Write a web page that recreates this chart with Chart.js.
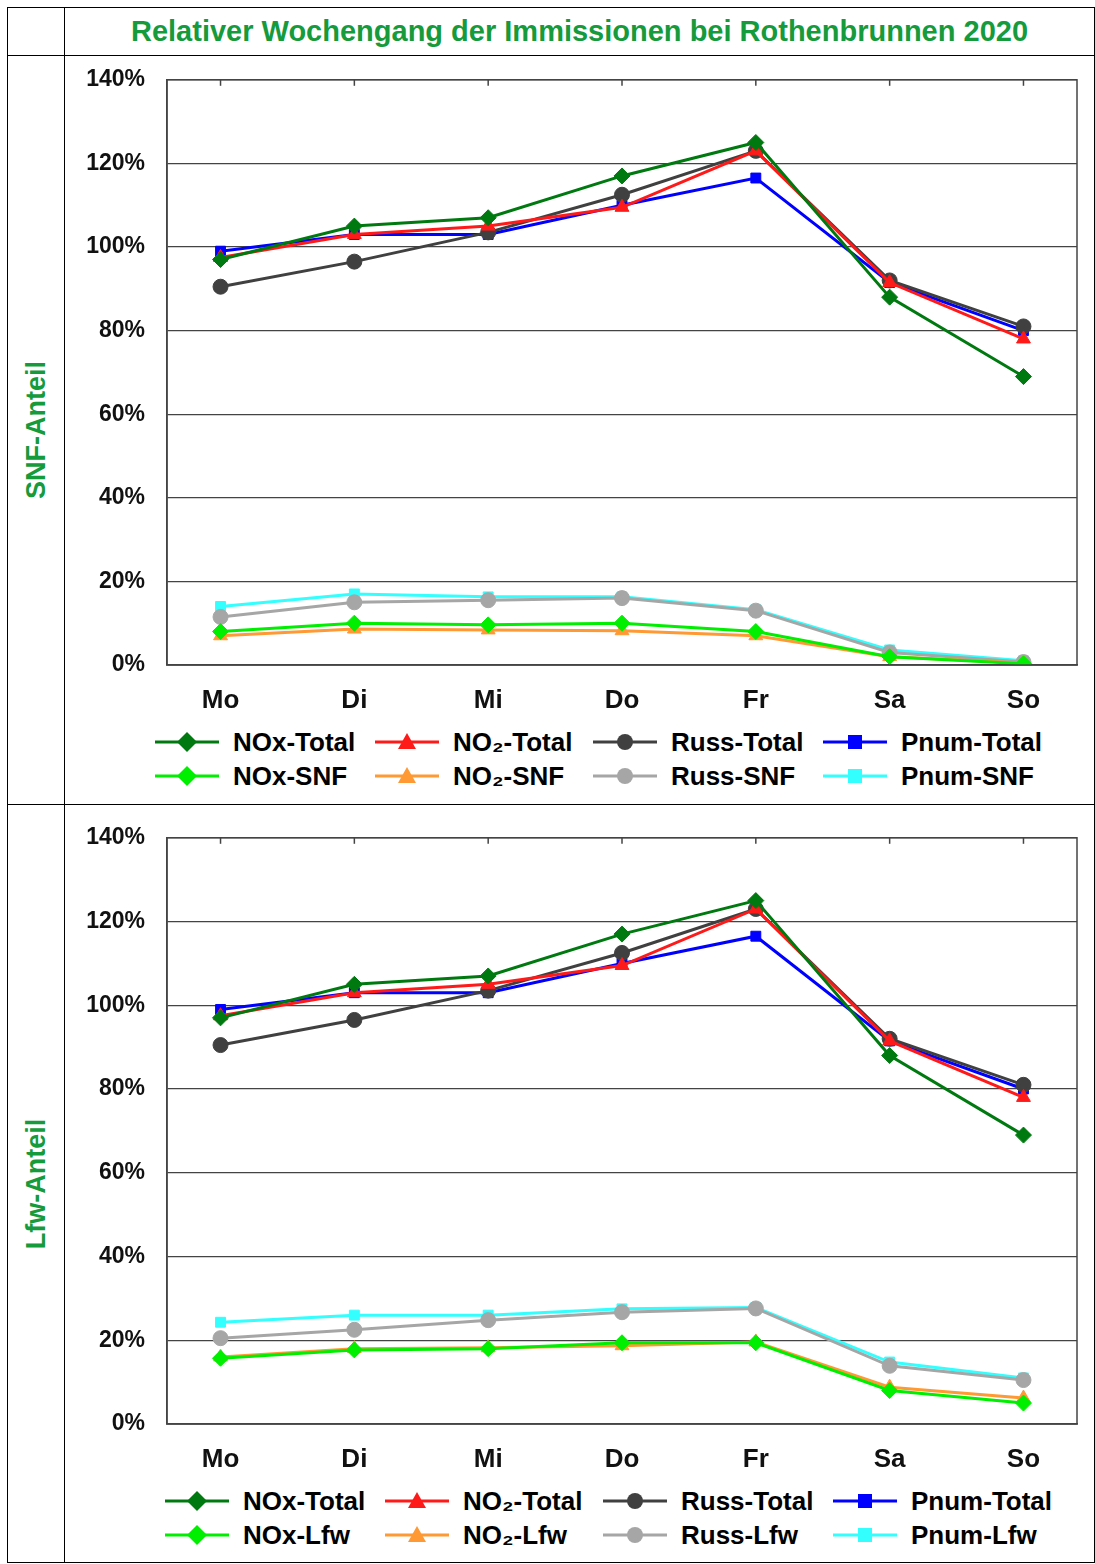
<!DOCTYPE html>
<html><head><meta charset="utf-8">
<script src="https://cdn.jsdelivr.net/npm/chart.js@4/dist/chart.umd.min.js"></script>
<style>
body{margin:0;background:#fff;font-family:"Liberation Sans",Arial,sans-serif}
table{position:absolute;left:7px;top:7px;border-collapse:collapse;width:1088px}
td{border:1.5px solid #000;padding:0;vertical-align:top}
.title{height:47px;text-align:center;color:#159a3c;font-weight:bold;font-size:29px;line-height:47px}
.side{width:56px;position:relative}
.side span{position:absolute;left:50%;top:50%;transform:translate(-50%,-50%) rotate(-90deg);color:#159a3c;font-weight:bold;font-size:27px;white-space:nowrap}
.legend{display:grid;grid-template-columns:220px 218px 230px 240px;margin-left:90px;font-weight:bold;font-size:26px;row-gap:2px;white-space:nowrap}
.legend div{display:flex;align-items:center;height:32px}
.legend svg{margin-right:14px;flex:none}
</style></head><body>
<table>
<tr><td></td><td class="title">Relativer Wochengang der Immissionen bei Rothenbrunnen 2020</td></tr>
<tr><td class="side" style="height:748px"><span>SNF-Anteil</span></td>
<td><div style="height:682px;margin-top:-12px"><canvas id="c1"></canvas></div><div class="legend" id="l1"></div></td></tr>
<tr><td class="side" style="height:757px"><span>Lfw-Anteil</span></td>
<td><div style="height:683px;margin-top:-3px"><canvas id="c2"></canvas></div><div class="legend" id="l2" style="margin-left:100px"></div></td></tr>
</table>
<script>
const days = ["Mo","Di","Mi","Do","Fr","Sa","So"];
const yTicks = [0,20,40,60,80,100,120,140];
const noxTotal = [97,105,107,117,125,88,69];
const no2Total = [97.5,103,105,109.5,123,91.5,78];
const russTotal = [90.5,96.5,103.5,112.5,123,92,81];
const pnumTotal = [99,103,103,110,116.5,91.5,80];
const noxSNF = [8,10,9.6,10,8,2,0.3];
const no2SNF = [7,8.6,8.4,8.2,7,2,0.5];
const russSNF = [11.5,15,15.5,16,13,3,0.7];
const pnumSNF = [14,17,16.3,16.3,13.2,3.6,1];
const noxLfw = [15.7,17.7,18,19.4,19.4,8,5];
const no2Lfw = [16,18,18.2,18.7,19.6,8.8,6.2];
const russLfw = [20.5,22.5,24.8,26.7,27.6,13.9,10.5];
const pnumLfw = [24.3,26,26,27.5,27.8,14.8,11];

const styles = [
  {c:"#007a10",p:"rectRot",r:8},{c:"#ff1a1a",p:"triangle",r:8},{c:"#404040",p:"circle",r:7.5},{c:"#0000ff",p:"rect",r:7},
  {c:"#00ee00",p:"rectRot",r:8},{c:"#ff9933",p:"triangle",r:8},{c:"#a6a6a6",p:"circle",r:7.5},{c:"#33ffff",p:"rect",r:7}];

function ds(label,data,s){
  return {label,data:data.map((v,i)=>({x:i,y:v})),borderColor:s.c,backgroundColor:s.c,borderWidth:3,
    pointStyle:s.p,pointRadius:s.r,pointBorderWidth:1,tension:0};
}
const frame = {id:"frame",afterDraw(ch){const a=ch.chartArea,c=ch.ctx;c.save();c.strokeStyle="#444";c.lineWidth=1.5;
  c.strokeRect(a.left,a.top,a.width,a.height);
  ch.scales.x.ticks.forEach(t=>{const x=ch.scales.x.getPixelForValue(t.value);c.beginPath();c.moveTo(x,a.top);c.lineTo(x,a.top+6);c.stroke();});
  c.restore();}};

function make(id,lists,names){
  new Chart(document.getElementById(id),{type:"line",
    data:{datasets:lists.map((d,i)=>ds(names[i],d,styles[i]))},
    options:{responsive:true,maintainAspectRatio:false,animation:false,
      layout:{padding:{top:12,right:17,left:0,bottom:0}},
      plugins:{legend:{display:false},tooltip:{enabled:false}},
      scales:{
        x:{type:"linear",min:-0.4,max:6.4,afterBuildTicks:s=>{s.ticks=days.map((d,i)=>({value:i}));},
          afterFit:s=>{s.height=61;},
          grid:{display:false,drawTicks:true},border:{color:"#444",width:1.5},
          ticks:{callback:v=>days[v],color:"#111",font:{size:26,weight:"bold",family:"Liberation Sans"},padding:12}},
        y:{min:0,max:140,afterBuildTicks:s=>{s.ticks=yTicks.map(v=>({value:v}));},
          afterFit:s=>{s.width=102;},
          grid:{color:"#444",lineWidth:1.2,drawTicks:false},border:{color:"#444",width:1.5},
          ticks:{callback:v=>v+"%",color:"#111",font:{size:23,weight:"bold",family:"Liberation Sans"},padding:22}}}},
    plugins:[frame]});
}
function legend(id,names){
  const el=document.getElementById(id);
  names.forEach((n,i)=>{const s=styles[i];let m;
    if(s.p==="rectRot")m=`<polygon points="32,2 42,12 32,22 22,12" fill="${s.c}"/>`;
    else if(s.p==="triangle")m=`<polygon points="32,3 41,19 23,19" fill="${s.c}"/>`;
    else if(s.p==="circle")m=`<circle cx="32" cy="12" r="8" fill="${s.c}"/>`;
    else m=`<rect x="25" y="5" width="14" height="14" fill="${s.c}"/>`;
    el.innerHTML+=`<div><svg width="64" height="24"><line x1="0" y1="12" x2="64" y2="12" stroke="${s.c}" stroke-width="3"/>${m}</svg>${n}</div>`;});
}
const n1=["NOx-Total","NO₂-Total","Russ-Total","Pnum-Total","NOx-SNF","NO₂-SNF","Russ-SNF","Pnum-SNF"];
const n2=["NOx-Total","NO₂-Total","Russ-Total","Pnum-Total","NOx-Lfw","NO₂-Lfw","Russ-Lfw","Pnum-Lfw"];
make("c1",[noxTotal,no2Total,russTotal,pnumTotal,noxSNF,no2SNF,russSNF,pnumSNF],n1);
make("c2",[noxTotal,no2Total,russTotal,pnumTotal,noxLfw,no2Lfw,russLfw,pnumLfw],n2);
legend("l1",n1);legend("l2",n2);
</script></body></html>
